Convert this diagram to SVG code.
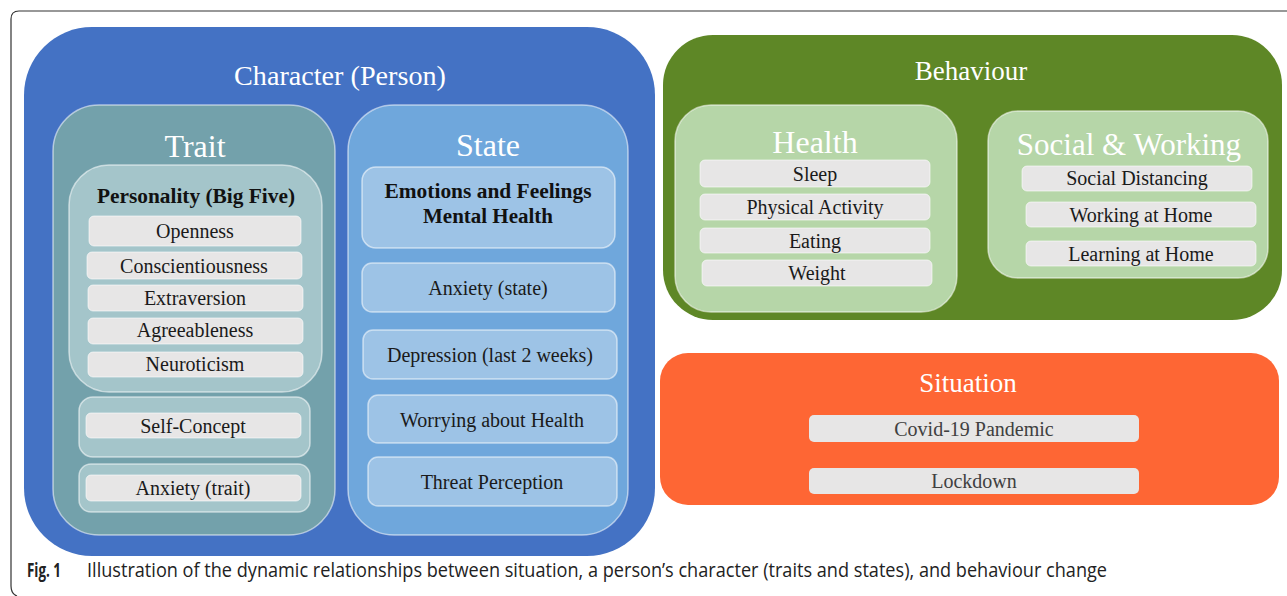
<svg xmlns="http://www.w3.org/2000/svg" width="1287" height="596" viewBox="0 0 1287 596">
<style>
.hd{font-family:"Liberation Serif","Times New Roman",serif;fill:#ffffff;text-anchor:middle}
.it{font-family:"Liberation Serif","Times New Roman",serif;font-size:20px;fill:#1a1a1a;text-anchor:middle}
.bd{font-family:"Liberation Serif","Times New Roman",serif;font-size:20px;font-weight:bold;fill:#111;text-anchor:middle}
.gray{fill:#E7E6E6;stroke:#ffffff;stroke-opacity:0.6;stroke-width:1}
.edge{stroke:#ffffff;stroke-opacity:0.55;stroke-width:1.5}
.cap{font-family:"Open Sans","Noto Sans","Liberation Sans",sans-serif;font-size:20px;fill:#222}
</style>
<rect width="1287" height="596" fill="#ffffff"/>
<path d="M1287 11 H19 Q11 11 11 19 V586 Q11 594 17 596" fill="none" stroke="#333" stroke-width="1.2"/>

<g id="character">
<rect x="24" y="27" width="631" height="529" rx="68" fill="#4472C4"/>
<text class="hd" x="340" y="85" font-size="27" textLength="212" lengthAdjust="spacingAndGlyphs">Character  (Person)</text>
</g>

<g id="trait">
<rect class="edge" x="53" y="105" width="282" height="430" rx="46" fill="#73A1AB"/>
<text class="hd" x="195" y="157" font-size="32">Trait</text>
</g>

<g id="personality">
<rect class="edge" x="69" y="165" width="253" height="227" rx="40" fill="#A4C5CA"/>
<text class="bd" x="196" y="203" textLength="198" lengthAdjust="spacingAndGlyphs">Personality  (Big Five)</text>
<rect class="gray" x="89" y="216" width="212" height="30" rx="5"/>
<text class="it" x="195" y="238">Openness</text>
<rect class="gray" x="87" y="252" width="215" height="27" rx="5"/>
<text class="it" x="194" y="273">Conscientiousness</text>
<rect class="gray" x="88" y="285" width="215" height="26" rx="5"/>
<text class="it" x="195" y="305">Extraversion</text>
<rect class="gray" x="88" y="318" width="215" height="26" rx="5"/>
<text class="it" x="195" y="337">Agreeableness</text>
<rect class="gray" x="88" y="352" width="215" height="25" rx="5"/>
<text class="it" x="195" y="371">Neuroticism</text>
</g>

<g id="self-concept">
<rect class="edge" x="79" y="397" width="231" height="60" rx="14" fill="#A4C5CA"/>
<rect class="gray" x="86" y="413" width="215" height="25" rx="5"/>
<text class="it" x="193" y="433">Self-Concept</text>
</g>

<g id="anxiety-trait">
<rect class="edge" x="79" y="464" width="231" height="48" rx="12" fill="#A4C5CA"/>
<rect class="gray" x="86" y="475" width="215" height="26" rx="5"/>
<text class="it" x="193" y="495">Anxiety  (trait)</text>
</g>

<g id="state">
<rect class="edge" x="348" y="105" width="280" height="430" rx="46" fill="#6FA7DC"/>
<text class="hd" x="488" y="156" font-size="32">State</text>
</g>

<g id="emotions">
<rect class="edge" x="362" y="167" width="253" height="81" rx="14" fill="#9DC3E6"/>
<text class="bd" x="488" y="198" textLength="207" lengthAdjust="spacingAndGlyphs">Emotions  and  Feelings</text>
<text class="bd" x="488" y="223" textLength="130" lengthAdjust="spacingAndGlyphs">Mental  Health</text>
</g>

<g id="anxiety-state">
<rect class="edge" x="362" y="263" width="253" height="49" rx="10" fill="#9DC3E6"/>
<text class="it" x="488" y="295">Anxiety  (state)</text>
</g>

<g id="depression">
<rect class="edge" x="363" y="330" width="254" height="49" rx="10" fill="#9DC3E6"/>
<text class="it" x="490" y="362">Depression (last 2 weeks)</text>
</g>

<g id="worrying">
<rect class="edge" x="368" y="395" width="249" height="48" rx="10" fill="#9DC3E6"/>
<text class="it" x="492" y="427">Worrying  about Health</text>
</g>

<g id="threat">
<rect class="edge" x="368" y="457" width="249" height="49" rx="10" fill="#9DC3E6"/>
<text class="it" x="492" y="489">Threat  Perception</text>
</g>

<g id="behaviour">
<rect x="663" y="35" width="619" height="285" rx="50" fill="#5E8726"/>
<text class="hd" x="971" y="80" font-size="27">Behaviour</text>
</g>

<g id="health">
<rect class="edge" x="675" y="105" width="282" height="207" rx="36" fill="#B6D6A8"/>
<text class="hd" x="815" y="153" font-size="32">Health</text>
<rect class="gray" x="700" y="160" width="230" height="27" rx="5"/>
<text class="it" x="815" y="181">Sleep</text>
<rect class="gray" x="700" y="194" width="230" height="26" rx="5"/>
<text class="it" x="815" y="214">Physical  Activity</text>
<rect class="gray" x="700" y="228" width="230" height="25" rx="5"/>
<text class="it" x="815" y="248">Eating</text>
<rect class="gray" x="702" y="260" width="230" height="26" rx="5"/>
<text class="it" x="817" y="280">Weight</text>
</g>

<g id="social-working">
<rect class="edge" x="988" y="111" width="280" height="167" rx="30" fill="#B6D6A8"/>
<text class="hd" x="1129" y="155" font-size="31">Social &amp; Working</text>
<rect class="gray" x="1022" y="166" width="230" height="25" rx="5"/>
<text class="it" x="1137" y="185">Social Distancing</text>
<rect class="gray" x="1026" y="202" width="230" height="25" rx="5"/>
<text class="it" x="1141" y="222">Working  at Home</text>
<rect class="gray" x="1026" y="241" width="230" height="25" rx="5"/>
<text class="it" x="1141" y="261">Learning  at Home</text>
</g>

<g id="situation">
<rect x="660" y="353" width="619" height="152" rx="28" fill="#FE6634"/>
<text class="hd" x="968" y="392" font-size="27">Situation</text>
<rect x="809" y="415" width="330" height="27" rx="5" fill="#E7E6E6"/>
<text class="it" x="974" y="436" style="fill:#404040">Covid-19 Pandemic</text>
<rect x="809" y="468" width="330" height="26" rx="5" fill="#E7E6E6"/>
<text class="it" x="974" y="488" style="fill:#404040">Lockdown</text>
</g>

<g id="caption">
<text class="cap" x="27" y="577" font-weight="bold" textLength="34" lengthAdjust="spacingAndGlyphs">Fig. 1</text>
<text class="cap" x="87" y="577" textLength="1020" lengthAdjust="spacingAndGlyphs">Illustration of the dynamic relationships between situation, a person’s character (traits and states), and behaviour change</text>
</g>

<g id="connectors"></g>
</svg>
